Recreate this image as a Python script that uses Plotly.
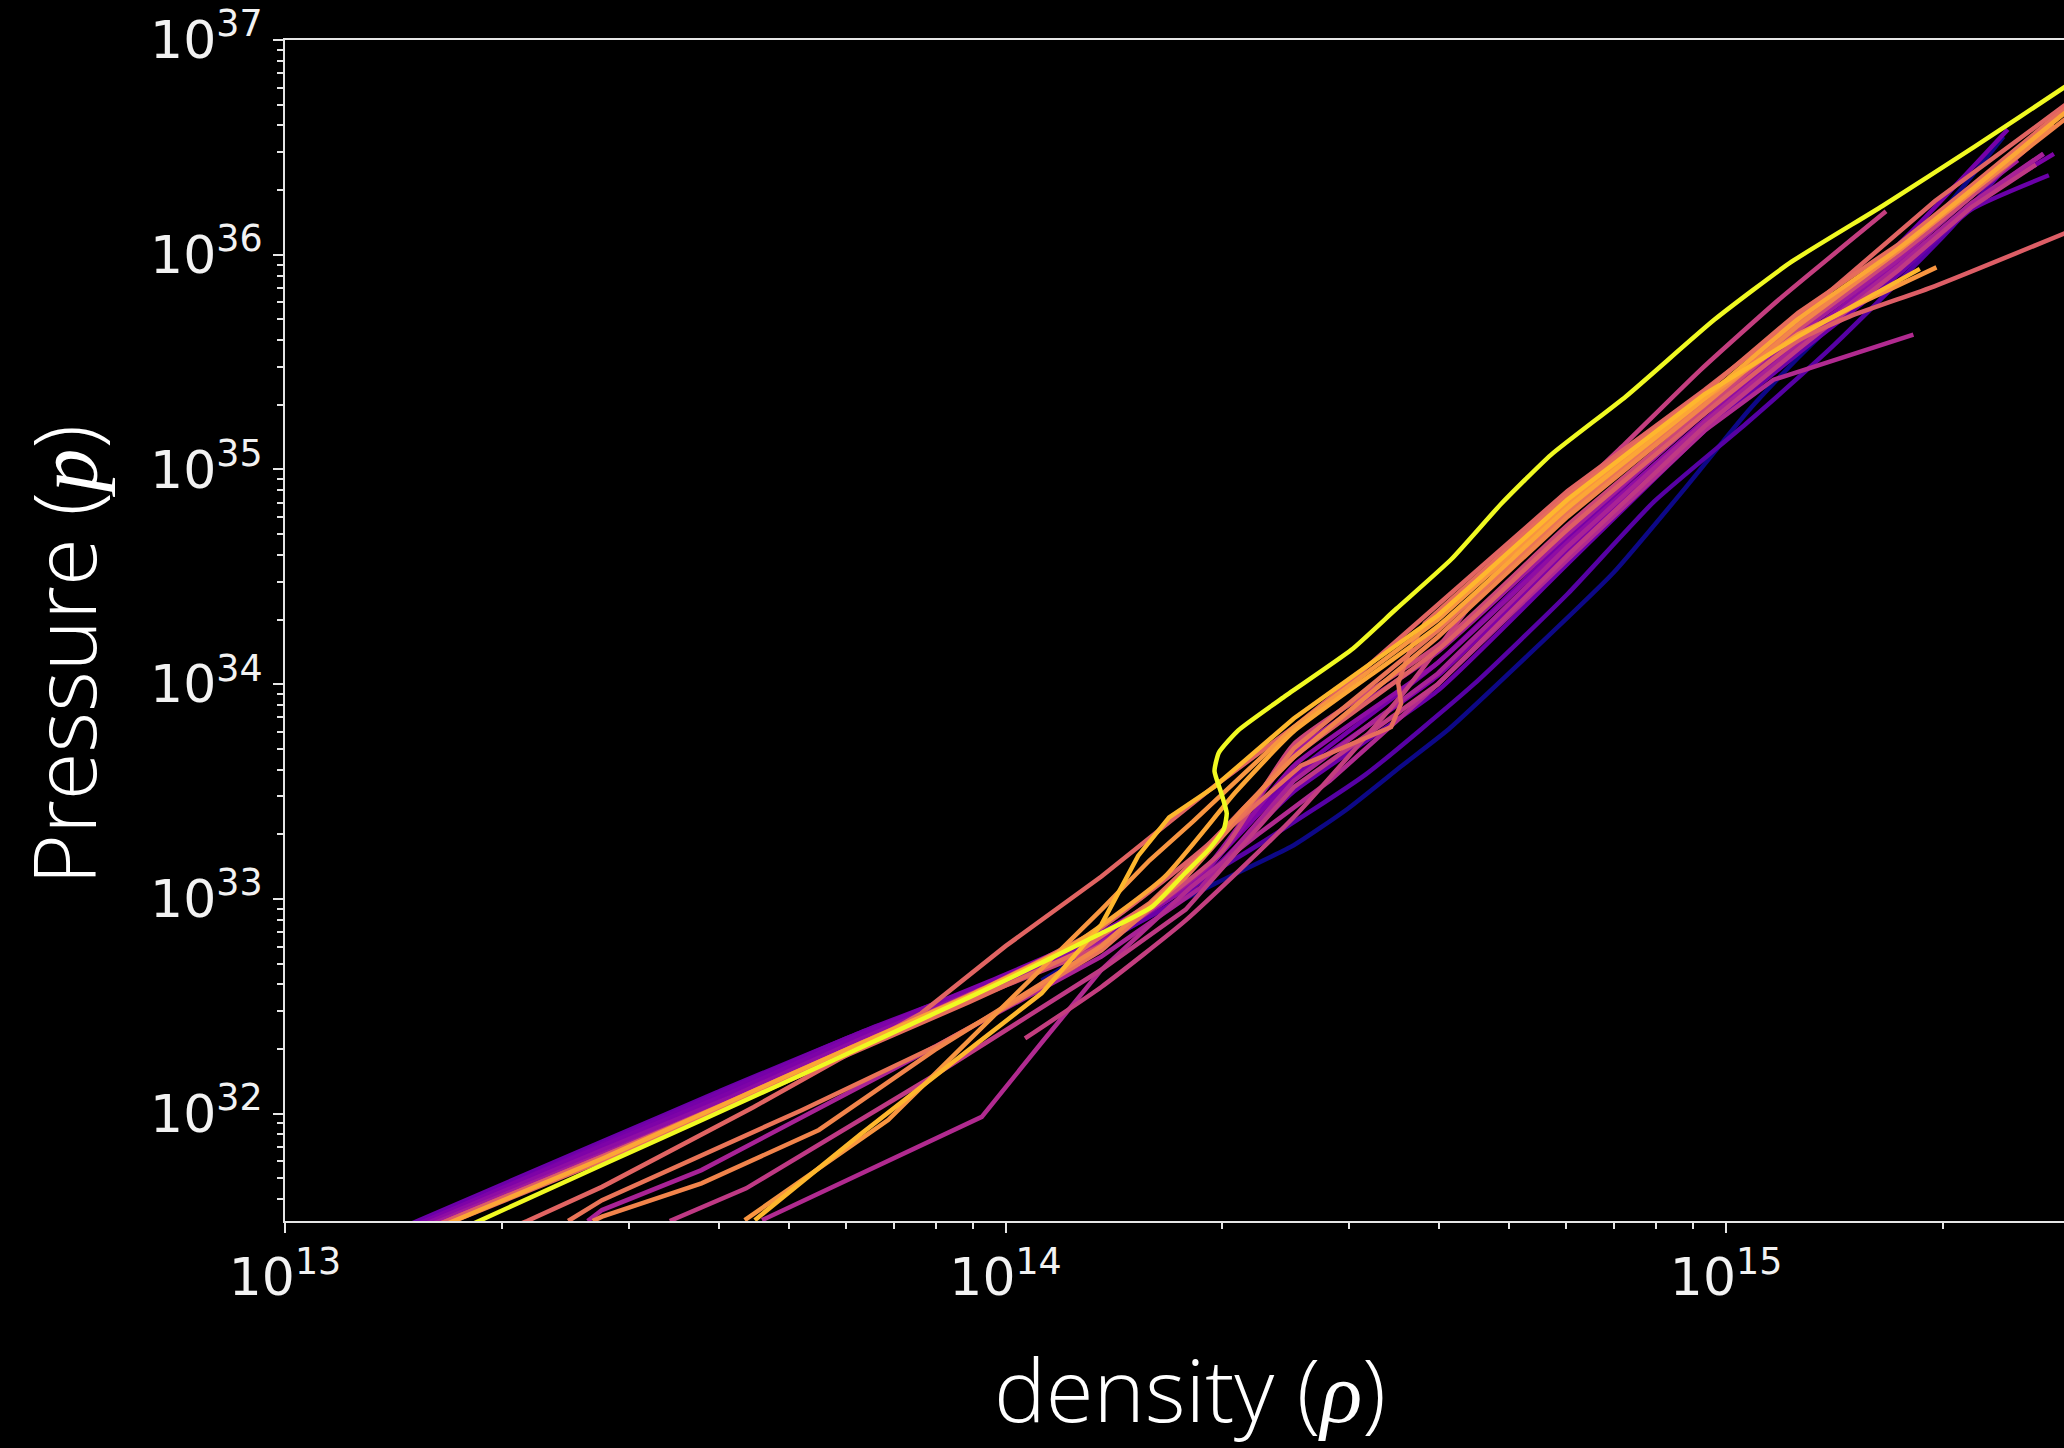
import plotly.graph_objects as go

# ---- data: log10(density) and log10(pressure) ----
lr_yellow = [13.23, 13.44, 13.578, 13.763, 13.901, 13.995, 14.133, 14.203, 14.25, 14.283, 14.303, 14.307, 14.299, 14.290, 14.296, 14.323, 14.387, 14.48, 14.542, 14.619, 14.688, 14.757, 14.861, 14.984, 15.089, 15.217, 15.345, 15.469, 15.52]
lp_yellow = [31.44, 31.761, 31.969, 32.252, 32.466, 32.613, 32.84, 32.963, 33.123, 33.233, 33.325, 33.399, 33.497, 33.595, 33.681, 33.785, 33.942, 34.16, 34.35, 34.583, 34.84, 35.068, 35.34, 35.698, 35.963, 36.227, 36.503, 36.779, 36.89]

lr_blue = [14.05, 14.19, 14.29, 14.40, 14.475, 14.55, 14.615, 14.73, 14.844, 14.94, 15.03, 15.10, 15.20, 15.30, 15.385]
lp_blue = [32.62, 32.90, 33.07, 33.25, 33.42, 33.62, 33.79, 34.15, 34.52, 34.90, 35.27, 35.52, 35.85, 36.20, 36.55]

lr_k1 = [13.17, 13.44, 13.60, 13.816, 13.96, 14.10, 14.25, 14.40, 14.60, 14.78, 14.97, 15.10, 15.24, 15.34, 15.448]
lp_k1 = [31.48, 31.87, 32.10, 32.40, 32.56, 32.74, 33.02, 33.50, 33.97, 34.56, 35.18, 35.54, 35.91, 36.21, 36.37]

lr_k2 = [13.18, 13.44, 13.62, 13.80, 13.98, 14.13, 14.27, 14.40, 14.60, 14.78, 14.97, 15.10, 15.24, 15.34, 15.455]
lp_k2 = [31.48, 31.85, 32.10, 32.37, 32.62, 32.84, 33.12, 33.56, 34.04, 34.62, 35.21, 35.57, 35.93, 36.23, 36.47]

lr_k3 = [13.19, 13.44, 13.62, 13.80, 13.98, 14.13, 14.27, 14.40, 14.60, 14.78, 14.97, 15.10, 15.24, 15.36, 15.441]
lp_k3 = [31.48, 31.83, 32.08, 32.35, 32.60, 32.80, 33.10, 33.62, 34.10, 34.66, 35.23, 35.60, 35.96, 36.28, 36.47]

lr_k4 = [13.20, 13.44, 13.62, 13.80, 13.98, 14.13, 14.28, 14.40, 14.60, 14.78, 14.97, 15.10, 15.24, 15.34, 15.405]
lp_k4 = [31.48, 31.81, 32.06, 32.33, 32.58, 32.79, 33.15, 33.68, 34.15, 34.70, 35.26, 35.63, 35.98, 36.27, 36.44]

lr_k5 = [13.22, 13.44, 13.60, 13.78, 13.95, 14.10, 14.22, 14.32, 14.40, 14.60, 14.78, 14.97, 15.10, 15.24, 15.34, 15.47, 15.52]
lp_k5 = [31.48, 31.79, 32.03, 32.30, 32.55, 32.80, 33.10, 33.50, 33.78, 34.27, 34.82, 35.33, 35.70, 36.03, 36.30, 36.66, 36.78]

lr_k6 = [13.21, 13.44, 13.62, 13.80, 13.98, 14.13, 14.30, 14.40, 14.60, 14.78, 14.97, 15.10, 15.24, 15.34, 15.42]
lp_k6 = [31.48, 31.80, 32.05, 32.32, 32.57, 32.78, 33.22, 33.72, 34.18, 34.74, 35.28, 35.65, 36.00, 36.27, 36.50]

lr_k8 = [13.185, 13.44, 13.62, 13.80, 13.97, 14.12, 14.28, 14.40, 14.60, 14.78, 14.97, 15.10, 15.24, 15.391]
lp_k8 = [31.48, 31.86, 32.12, 32.38, 32.60, 32.80, 33.15, 33.58, 34.10, 34.68, 35.27, 35.66, 36.05, 36.583]

lr_plow = [13.19, 13.44, 13.62, 13.80, 13.98, 14.10, 14.20, 14.35, 14.50, 14.65, 14.78, 14.90, 15.03, 15.15, 15.30, 15.40]
lp_plow = [31.48, 31.84, 32.10, 32.36, 32.60, 32.78, 32.95, 33.25, 33.58, 34.00, 34.42, 34.85, 35.22, 35.58, 36.08, 36.45]

lr_s1 = [13.30, 13.336, 13.44, 13.65, 13.883, 14.0, 14.133, 14.184, 14.289, 14.40, 14.474, 14.60, 14.78, 14.97, 15.12, 15.29, 15.47, 15.52]
lp_s1 = [31.45, 31.50, 31.659, 32.03, 32.467, 32.78, 33.104, 33.243, 33.523, 33.80, 34.00, 34.37, 34.90, 35.37, 35.76, 36.25, 36.69, 36.82]

lr_s2 = [13.393, 13.44, 13.717, 13.902, 14.018, 14.133, 14.25, 14.33, 14.40, 14.60, 14.78, 14.97, 15.10, 15.24, 15.34, 15.455]
lp_s2 = [31.50, 31.597, 32.016, 32.311, 32.528, 32.76, 33.10, 33.40, 33.70, 34.25, 34.80, 35.31, 35.68, 36.02, 36.29, 36.606]

lr_m2 = [13.42, 13.44, 13.578, 13.842, 14.133, 14.27, 14.40, 14.60, 14.78, 14.97, 15.10, 15.24, 15.34, 15.44]
lp_m2 = [31.50, 31.551, 31.737, 32.203, 32.731, 33.05, 33.55, 34.05, 34.64, 35.22, 35.58, 35.95, 36.24, 36.47]

lr_o3 = [13.427, 13.44, 13.578, 13.741, 13.902, 14.133, 14.25, 14.33, 14.40, 14.60, 14.78, 14.97, 15.10, 15.24, 15.34, 15.47, 15.52]
lp_o3 = [31.50, 31.52, 31.675, 31.924, 32.297, 32.78, 33.12, 33.42, 33.66, 34.22, 34.78, 35.30, 35.67, 36.02, 36.29, 36.63, 36.75]

lr_m1 = [13.534, 13.640, 13.902, 14.133, 14.25, 14.40, 14.60, 14.78, 14.97, 15.10, 15.24, 15.34, 15.43]
lp_m1 = [31.50, 31.652, 32.18, 32.67, 32.95, 33.52, 34.00, 34.60, 35.20, 35.56, 35.93, 36.22, 36.42]

lr_mk = [13.662, 13.85, 13.967, 14.05, 14.133, 14.258, 14.35, 14.45, 14.60, 14.78, 14.97, 15.066, 15.166, 15.26]
lp_mk = [31.504, 31.80, 31.985, 32.33, 32.67, 33.057, 33.30, 33.55, 34.00, 34.58, 35.18, 35.418, 35.527, 35.628]

lr_ms = [14.027, 14.133, 14.25, 14.40, 14.55, 14.70, 14.856, 14.965, 15.073, 15.222]
lp_ms = [32.35, 32.59, 32.90, 33.38, 33.95, 34.60, 35.107, 35.465, 35.79, 36.202]

lr_amber = [13.652, 13.80, 13.95, 14.05, 14.133, 14.184, 14.227, 14.289, 14.40, 14.60, 14.78, 14.97, 15.10, 15.18, 15.269]
lp_amber = [31.504, 31.908, 32.30, 32.56, 32.88, 33.20, 33.38, 33.52, 33.84, 34.32, 34.86, 35.35, 35.62, 35.77, 35.934]

lr_orange = [13.638, 13.837, 14.133, 14.20, 14.26, 14.32, 14.40, 14.60, 14.78, 14.97, 15.10, 15.19, 15.292]
lp_orange = [31.504, 31.97, 32.95, 33.18, 33.36, 33.55, 33.80, 34.30, 34.84, 35.33, 35.63, 35.78, 35.941]

lr_sw = [13.22, 13.44, 13.62, 13.80, 13.95, 14.10, 14.20, 14.30, 14.41, 14.535, 14.549, 14.545, 14.563, 14.582, 14.62, 14.78, 14.97, 15.10, 15.24, 15.34, 15.47, 15.52]
lp_sw = [31.48, 31.78, 32.04, 32.30, 32.52, 32.75, 32.98, 33.30, 33.62, 33.80, 33.91, 34.005, 34.175, 34.284, 34.40, 34.88, 35.36, 35.73, 36.05, 36.32, 36.68, 36.80]

lr_sf = [13.21, 13.44, 13.62, 13.80, 13.98, 14.13, 14.28, 14.40, 14.60, 14.78, 14.97, 15.10, 15.172, 15.289, 15.47, 15.52]
lp_sf = [31.48, 31.80, 32.06, 32.33, 32.60, 32.86, 33.25, 33.66, 34.16, 34.72, 35.26, 35.60, 35.713, 35.853, 36.10, 36.17]

x_tick_vals = [1e13, 1e14, 1e15]
x_tick_text = ["10<sup>13</sup>", "10<sup>14</sup>", "10<sup>15</sup>"]
y_tick_vals = [1e32, 1e33, 1e34, 1e35, 1e36, 1e37]
y_tick_text = ["10<sup>32</sup>", "10<sup>33</sup>", "10<sup>34</sup>", "10<sup>35</sup>", "10<sup>36</sup>", "10<sup>37</sup>"]

# ---- styles (plasma colormap samples) ----
curves = [
    ("blue", "#0d0887", lr_blue, lp_blue, "spline"),
    ("plow", "#5601a4", lr_plow, lp_plow, "spline"),
    ("k1", "#6a00a8", lr_k1, lp_k1, "spline"),
    ("k8", "#7501a8", lr_k8, lp_k8, "spline"),
    ("k2", "#7e03a8", lr_k2, lp_k2, "spline"),
    ("k3", "#8f0da4", lr_k3, lp_k3, "spline"),
    ("k4", "#a11b9b", lr_k4, lp_k4, "spline"),
    ("m2", "#a82296", lr_m2, lp_m2, "linear"),
    ("mk", "#b12a90", lr_mk, lp_mk, "linear"),
    ("m1", "#bf3984", lr_m1, lp_m1, "linear"),
    ("ms", "#c43e7f", lr_ms, lp_ms, "spline"),
    ("k6", "#cc4778", lr_k6, lp_k6, "spline"),
    ("sf", "#dd5e66", lr_sf, lp_sf, "spline"),
    ("s1", "#e16462", lr_s1, lp_s1, "linear"),
    ("sw", "#e66c5c", lr_sw, lp_sw, "linear"),
    ("s2", "#ea7457", lr_s2, lp_s2, "linear"),
    ("o3", "#f2844b", lr_o3, lp_o3, "linear"),
    ("orange", "#f89540", lr_orange, lp_orange, "linear"),
    ("k5", "#fca636", lr_k5, lp_k5, "spline"),
    ("amber", "#feb72d", lr_amber, lp_amber, "linear"),
    ("yellow", "#f0f921", lr_yellow, lp_yellow, "spline"),
]

fig = go.Figure()
for name, color, lr, lp, shape in curves:
    line = dict(color=color, width=4.5, shape=shape)
    if shape == "spline":
        line["smoothing"] = 0.5
    fig.add_trace(go.Scatter(
        x=[10 ** v for v in lr], y=[10 ** v for v in lp],
        mode="lines", name=name, showlegend=False,
        line=line, hoverinfo="skip",
    ))

axis_col = "#e6e6e6"
tick_font = dict(family="DejaVu Sans", size=52, color="#f2f2f2")

fig.update_xaxes(
    type="log", range=[13, 15.469],
    tickmode="array", tickvals=x_tick_vals, ticktext=x_tick_text,
    showgrid=False, zeroline=False,
    showline=True, linecolor=axis_col, linewidth=2, mirror=True,
    ticks="outside", ticklen=10, tickwidth=2, tickcolor=axis_col,
    minor=dict(ticks="outside", ticklen=6, tickwidth=1.5, tickcolor=axis_col, dtick="D1", showgrid=False),
    tickfont=tick_font,
)
fig.update_yaxes(
    type="log", range=[31.5, 37],
    tickmode="array", tickvals=y_tick_vals, ticktext=y_tick_text,
    showgrid=False, zeroline=False,
    showline=True, linecolor=axis_col, linewidth=2, mirror=False,
    ticks="outside", ticklen=10, tickwidth=2, tickcolor=axis_col,
    minor=dict(ticks="outside", ticklen=6, tickwidth=1.5, tickcolor=axis_col, dtick="D1", showgrid=False),
    tickfont=tick_font,
)

title_font = dict(family="Open Sans", size=87, color="white", weight=300)
math_span = "<span style=\"font-family:'Liberation Serif';font-weight:normal\"><i>{}</i></span>"
fig.add_annotation(
    text="density (" + math_span.format("ρ") + ")",
    xref="paper", yref="paper", x=0.5087, y=-0.141,
    xanchor="center", yanchor="middle", showarrow=False, font=title_font,
)
fig.add_annotation(
    text="Pressure (" + math_span.format("p") + ")",
    xref="paper", yref="paper", x=-0.125, y=0.479,
    xanchor="center", yanchor="middle", textangle=-90, showarrow=False, font=title_font,
)

fig.update_layout(
    width=2064, height=1448,
    margin=dict(l=285, r=0, t=40, b=227),
    paper_bgcolor="black", plot_bgcolor="black",
    showlegend=False,
)

fig.write_html("out.html")
